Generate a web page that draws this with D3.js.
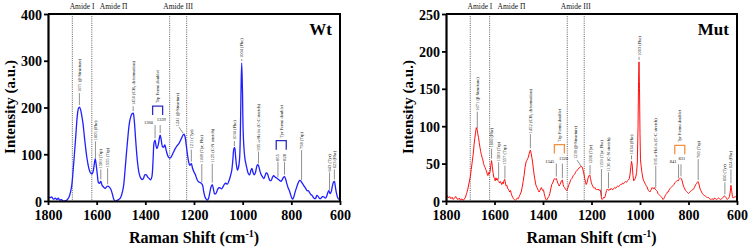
<!DOCTYPE html>
<html><head><meta charset="utf-8">
<script src="https://cdn.jsdelivr.net/npm/d3@7"></script>
<style>
html,body{margin:0;padding:0;background:#fff;}
svg{display:block;font-family:"Liberation Serif","Times New Roman",serif;}
</style></head>
<body><svg id="c" width="750" height="250"></svg>
<script>
// ---------- DATA ----------
const xTicks = [1800, 1600, 1400, 1200, 1000, 800, 600];
const wtYTicks = [0, 100, 200, 300, 400];
const mutYTicks = [0, 50, 100, 150, 200, 250];
const amideLines = [1700, 1620, 1300, 1230];
const amideNames = ["Amide I", "Amide \u03A0", "Amide III"];
const amideCenters = [1660, 1530, 1265];

const wtWave = [1800,1792,1785,1778,1770,1764,1758,1752,1745,1738,1730,1722,1714,1708,1702,1696,1690,1685,1680,1675,1671,1667,1662,1656,1650,1645,1640,1635,1630,1625,1620,1615,1610,1606,1602,1597,1593,1588,1583,1578,1572,1565,1558,1553,1547,1541,1535,1530,1525,1518,1510,1503,1497,1490,1484,1478,1472,1466,1460,1454,1450,1446,1441,1436,1431,1426,1420,1414,1408,1402,1396,1390,1384,1378,1373,1368,1364,1360,1356,1352,1347,1342,1339,1335,1330,1325,1320,1315,1310,1305,1300,1295,1289,1283,1276,1270,1263,1257,1250,1245,1241,1237,1232,1227,1222,1217,1211,1206,1200,1195,1189,1183,1177,1170,1165,1160,1155,1150,1145,1140,1135,1130,1125,1120,1115,1110,1105,1099,1093,1087,1081,1075,1069,1063,1057,1051,1045,1040,1036,1033,1029,1025,1021,1017,1013,1010,1007,1004,1001,998,994,990,986,981,976,971,966,962,958,953,948,943,939,935,930,925,919,913,908,903,898,893,888,883,878,873,868,863,858,853,848,843,838,833,828,823,818,813,808,803,798,794,789,784,779,774,769,765,760,755,750,745,740,735,730,725,720,715,710,705,700,695,690,685,680,675,670,665,660,655,650,646,641,636,632,627,623,619,615,610,605,600];
const wtInt = [10,7,9,4,6,3,6,2,3,0,0,2,8,18,35,70,110,145,180,198,201,197,185,165,135,112,92,77,66,60,58,62,78,90,78,55,40,38,42,34,30,27,31,32,29,24,14,4,0,1,3,6,14,30,62,100,135,165,180,187,188,175,140,105,78,60,50,46,48,56,56,51,48,45,52,90,125,130,118,112,120,135,141,132,117,115,120,110,100,94,92,93,99,106,113,118,122,128,136,141,143,138,120,100,84,76,80,70,62,57,48,42,40,38,34,20,9,4,2,6,18,30,35,25,15,16,22,28,28,26,30,36,38,36,42,52,65,90,112,114,95,75,66,72,88,130,230,295,240,150,108,88,78,66,58,56,66,70,62,56,60,72,78,76,66,58,52,48,54,60,58,50,44,44,50,54,52,50,48,46,44,42,45,50,52,46,36,28,22,14,6,4,10,20,28,36,42,44,42,38,34,30,26,22,22,18,14,12,8,5,6,12,10,6,5,8,10,8,6,10,18,22,16,20,30,40,42,30,18,8,4,6];

const mutWave = [1800,1795,1790,1785,1780,1775,1770,1765,1760,1755,1750,1745,1740,1735,1730,1725,1720,1715,1710,1705,1700,1696,1692,1688,1684,1681,1678,1675,1672,1669,1666,1663,1660,1657,1654,1651,1648,1645,1642,1639,1636,1633,1630,1627,1624,1621,1618,1615,1612,1609,1606,1603,1600,1597,1594,1591,1588,1585,1582,1579,1576,1573,1570,1567,1564,1561,1558,1555,1552,1549,1546,1543,1540,1537,1534,1531,1528,1525,1522,1518,1514,1510,1506,1502,1498,1494,1490,1486,1482,1478,1474,1470,1467,1464,1461,1458,1455,1452,1449,1446,1443,1440,1437,1434,1431,1428,1425,1422,1419,1416,1413,1410,1407,1404,1401,1398,1395,1392,1389,1386,1383,1380,1376,1372,1368,1364,1360,1356,1352,1348,1345,1342,1339,1336,1333,1330,1327,1324,1320,1317,1314,1311,1308,1305,1302,1299,1296,1293,1290,1287,1284,1281,1278,1275,1272,1269,1266,1263,1260,1256,1252,1248,1244,1240,1237,1234,1231,1228,1225,1222,1219,1216,1213,1210,1207,1204,1201,1198,1195,1192,1189,1186,1183,1180,1177,1174,1171,1168,1165,1162,1159,1156,1153,1150,1147,1144,1141,1138,1135,1132,1129,1126,1123,1120,1116,1112,1108,1104,1100,1096,1092,1088,1084,1080,1076,1072,1068,1064,1060,1056,1052,1048,1044,1041,1038,1035,1032,1029,1026,1023,1020,1017,1014,1011,1008,1006,1004,1002,1000,998,995,992,989,986,983,980,977,974,971,968,965,962,959,956,953,950,947,944,941,938,935,932,929,926,923,920,917,914,911,908,905,902,899,896,893,890,887,884,881,878,875,872,869,866,863,860,857,854,851,848,845,842,839,836,833,830,827,824,821,818,815,812,809,806,803,800,797,794,791,788,785,782,779,776,773,770,767,764,761,758,755,752,749,746,743,740,737,734,731,728,725,722,719,716,713,710,707,704,700,696,692,688,684,680,676,672,668,664,660,656,652,649,646,643,640,637,634,631,628,625,622,619,616,612,608,604,600];
const mutInt = [5,7,4,6,3,5,2,4,6,3,2,4,1,3,1,2,5,10,16,24,32,42,52,62,76,84,92,98,96,90,85,78,72,66,62,58,55,50,47,45,42,40,36,34,38,36,40,48,54,46,38,32,30,27,31,28,30,27,26,24,26,24,22,25,23,27,29,24,20,21,17,16,14,12,14,10,7,5,3,2,1,2,4,3,6,9,12,18,26,34,45,52,54,56,58,62,66,68,64,58,52,44,36,30,24,20,18,16,14,12,14,16,18,16,14,15,10,6,3,1,2,4,6,10,16,22,24,28,30,29,30,27,24,22,20,22,24,27,28,22,19,18,16,15,14,16,19,22,24,27,29,30,32,34,35,36,38,40,41,42,44,45,46,46,44,40,36,30,26,22,24,28,32,34,35,30,25,22,20,18,17,18,16,15,16,15,16,14,15,12,4,2,3,5,4,6,10,14,16,15,14,16,15,17,16,15,17,18,17,19,20,19,21,22,22,24,23,25,26,25,27,28,30,36,45,53,48,34,27,28,30,33,38,52,100,160,186,150,90,55,46,38,32,28,26,24,22,20,19,16,14,13,12,14,16,18,17,16,18,16,15,14,13,10,9,8,7,6,5,4,2,3,5,7,9,10,12,12,14,16,17,18,19,20,21,22,24,25,26,27,28,27,29,30,31,30,28,24,20,18,16,14,13,12,11,10,11,12,13,14,15,15,16,18,20,22,23,25,26,24,20,16,14,12,10,9,8,7,7,6,5,4,5,4,3,2,3,2,3,2,4,3,2,3,4,3,2,3,4,5,7,6,5,3,2,3,4,6,12,21,14,6,4,5,6,5,5];

// peak annotations
const wtPeaks = [1671,1605,1583,1555,1450,1211,1168,1125,1034,1004,935,758,643,623];
const wtPeakText = ["1671 (\u03B2-Structure)","1605 (Phe)","1583 (Trp)","1555 (Trp)","1450 (CH\u2082 deformation)","1211 (Tyr)","1168 (Tyr, Phe)","1125 (C-N stretch)","1034 (Phe)","1004 (Phe)","935 \u03B1-Helix (C-C stretch)","758 (Trp)","643 (Tyr)","623 (Phe)"];
const mutPeaks = [1671,1612,1583,1557,1452,1206,1159,1130,1035,1004,935,760,650,625];
const mutPeakText = ["1671 (\u03B2-Structure)","1606 (Phe)","1583 (Trp)","1557 (Trp)","1452 (CH\u2082 deformation)","1206 (Tyr)","1159 (Tyr, Phe)","1130 (C-N stretch)","1034 (Phe)","1003 (Phe)","935 \u03B1-Helix (C-C stretch)","760 (Trp)","650 (Tyr)","624 (Phe)"];
const wtBeta = [1241, "1241 (\u03B2-Structure)"];
const mutBeta = [1239, "1239 (\u03B2-Structure)"];
const wtTrpDoublet = [1360, 1339];
const wtTyrDoublet = [855, 828];
const mutTrpDoublet = [1345, 1320];
const mutTyrDoublet = [841, 831];

// ---------- LAYOUT (pixels) ----------
const wtLineLen = [12,17,10,16,5,12,18,19,5,2,12,30,18,10];
const mutLineLen = [17,10,17,13,14,9,27,16,4,3,22,21,12,14];

const svg = d3.select("#c");

function interp(wave, vals, w){
  for(let i=0;i<wave.length-1;i++){
    if(w<=wave[i] && w>=wave[i+1]){
      const t=(wave[i]-w)/(wave[i]-wave[i+1]);
      return vals[i]+(vals[i+1]-vals[i])*t;
    }
  }
  return 0;
}

function panel(o){
  const g = svg.append("g");
  const x = d3.scaleLinear().domain([1800,600]).range([o.x0,o.x1]);
  const y = d3.scaleLinear().domain([0,o.ymax]).range([201,14]);

  // amide dotted lines
  amideLines.forEach(w=>{
    g.append("line").attr("x1",x(w)).attr("x2",x(w)).attr("y1",14).attr("y2",201)
      .attr("stroke","#333").attr("stroke-width",0.8).attr("stroke-dasharray","1,1.2");
  });
  amideNames.forEach((n,i)=>{
    g.append("text").attr("x",x(amideCenters[i])).attr("y",9).attr("text-anchor","middle")
      .attr("font-size",7.5).attr("fill","#111").text(n);
  });

  // curve
  const pts = o.wave.map((w,i)=>[w,o.vals[i]]);
  g.append("path").datum(pts)
    .attr("d", d3.line().x(d=>x(d[0])).y(d=>y(d[1])).curve(o.curve))
    .attr("fill","none").attr("stroke",o.color).attr("stroke-width",o.lw).attr("stroke-linejoin","round");

  const cy = w => y(interp(o.wave,o.vals,w));
  const fs = 4.5;
  function vtext(xx, yBottom, t){
    g.append("text").attr("transform",`translate(${xx+1.5},${yBottom}) rotate(-90)`)
      .attr("font-size",fs).attr("fill","#111").text(t);
  }
  // peak labels
  o.peaks.forEach((w,i)=>{
    const xx = x(w), yp = cy(w) - 2, len = o.lens[i];
    g.append("line").attr("x1",xx).attr("x2",xx).attr("y1",yp).attr("y2",yp-len)
      .attr("stroke","#222").attr("stroke-width",0.5);
    vtext(xx, yp-len-1, o.texts[i]);
  });
  // beta 1241
  {
    const w=o.beta[0], xx=x(w), yp=cy(w);
    g.append("line").attr("x1",xx-1).attr("y1",yp-1).attr("x2",xx-5).attr("y2",yp-7)
      .attr("stroke","#222").attr("stroke-width",0.5);
    vtext(xx-6.5, yp-8, o.beta[1]);
  }
  // doublets
  function doublet(pair, gap, vertical, name){
    const xa=x(pair[0]), xb=x(pair[1]);
    const ya=cy(pair[0]), yb=cy(pair[1]);
    const lab = Math.min(ya,yb) - gap;
    [[xa,ya,pair[0]],[xb,yb,pair[1]]].forEach(([xx,yy,w],k)=>{
      g.append("line").attr("x1",xx).attr("x2",xx).attr("y1",yy-2).attr("y2",lab+2)
        .attr("stroke","#222").attr("stroke-width",0.5);
      if(vertical){
        vtext(xx, lab+1, String(w));
      } else {
        g.append("text").attr("x", k===0? xx-2 : xx+1).attr("y", lab + (k===0?1:-2))
          .attr("text-anchor", k===0? "end":"middle").attr("font-size",fs).attr("fill","#111").text(String(w));
      }
    });
    const mid=(xa+xb)/2, bb = lab - (vertical?10:8), bt = bb-9;
    g.append("path").attr("d",`M${mid-5},${bb}V${bt}H${mid+5}V${bb}`)
      .attr("fill","none").attr("stroke",o.bracket).attr("stroke-width",1.3);
    vtext(mid, bt-3, name);
  }
  doublet(o.trp, o.trpGap, false, "Trp Fermi doublet");
  doublet(o.tyr, o.tyrGap, o.tyrVertical, "Tyr Fermi doublet");

  // frame
  g.append("path").attr("d",`M${o.x0},14H${o.x1}V201`).attr("fill","none").attr("stroke","#000").attr("stroke-width",2);
  // axes
  const ax = g.append("g").attr("transform","translate(0,201)")
    .call(d3.axisBottom(x).tickValues(xTicks).tickSize(4).tickSizeOuter(0).tickPadding(4).tickFormat(d3.format("d")));
  const ay = g.append("g").attr("transform",`translate(${o.x0},0)`)
    .call(d3.axisLeft(y).tickValues(o.yticks).tickSize(4).tickSizeOuter(0).tickPadding(2));
  [ax,ay].forEach(a=>{
    a.select(".domain").attr("stroke","#000").attr("stroke-width",2.2);
    a.selectAll(".tick line").attr("stroke","#000").attr("stroke-width",1.8);
    a.selectAll(".tick text").attr("font-family","Liberation Serif, Times New Roman, serif")
      .attr("font-weight","bold").attr("font-size",14).attr("fill","#000");
  });
  ax.selectAll(".tick text").attr("dy","0.8em");
  ay.selectAll(".tick text").attr("dy","0.36em");

  // titles
  g.append("text").attr("transform",`translate(${o.ytx},107) rotate(-90)`).attr("text-anchor","middle")
    .attr("font-weight","bold").attr("font-size",15).text("Intensity (a.u.)");
  const xt = g.append("text").attr("x",(o.x0+o.x1)/2).attr("y",243).attr("text-anchor","middle")
    .attr("font-weight","bold").attr("font-size",16);
  xt.append("tspan").text("Raman Shift (cm");
  xt.append("tspan").attr("dy",-6).attr("font-size",10).text("-1");
  xt.append("tspan").attr("dy",6).text(")");
  g.append("text").attr("x",o.x1-8).attr("y",35).attr("text-anchor","end")
    .attr("font-weight","bold").attr("font-size",17).text(o.name);
}

panel({x0:48,x1:340,ymax:400,yticks:wtYTicks,wave:wtWave,vals:wtInt,color:"#1f1fff",lw:1.3,
  curve:d3.curveCatmullRom,peaks:wtPeaks,texts:wtPeakText,lens:wtLineLen,beta:wtBeta,
  trp:wtTrpDoublet,trpGap:12,tyr:wtTyrDoublet,tyrGap:17,tyrVertical:true,bracket:"#2c2cc0",
  ytx:15,name:"Wt"});
panel({x0:446,x1:737,ymax:250,yticks:mutYTicks,wave:mutWave,vals:mutInt,color:"#ff1010",lw:1.0,
  curve:d3.curveLinear,peaks:mutPeaks,texts:mutPeakText,lens:mutLineLen,beta:mutBeta,
  trp:mutTrpDoublet,trpGap:17,tyr:mutTyrDoublet,tyrGap:16,tyrVertical:false,bracket:"#f5913c",
  ytx:413,name:"Mut"});
</script></body></html>
